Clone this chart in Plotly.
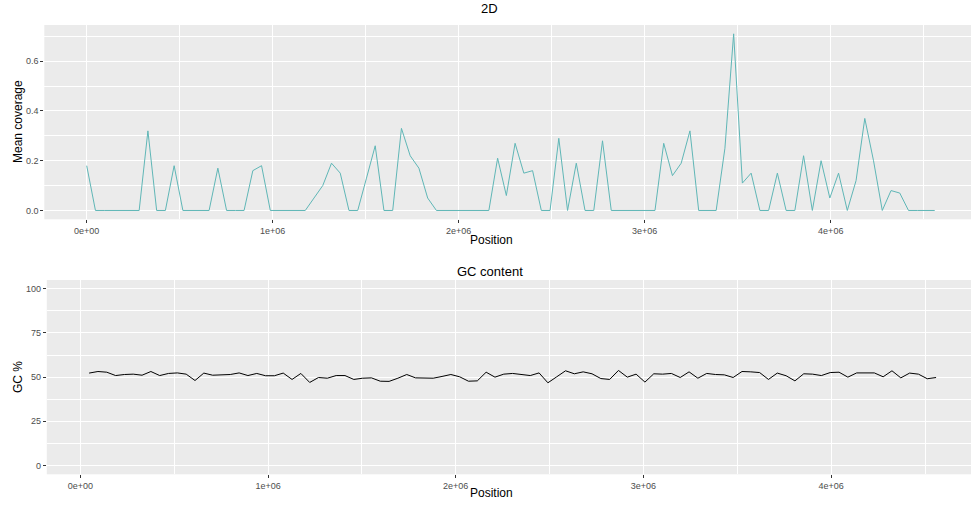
import plotly.graph_objects as go

# ---- data ----
cov_pos = [0, 47000, 94000, 141000, 188000, 235000, 282000, 329000, 376000, 423000,
           470000, 517000, 564000, 611000, 658000, 705000, 752000, 799000, 846000, 893000,
           940000, 987000, 1034000, 1081000, 1128000, 1175000, 1222000, 1269000, 1316000, 1363000,
           1410000, 1457000, 1504000, 1551000, 1598000, 1645000, 1692000, 1739000, 1786000, 1833000,
           1880000, 1927000, 1974000, 2021000, 2068000, 2115000, 2162000, 2209000, 2256000, 2303000,
           2350000, 2397000, 2444000, 2491000, 2538000, 2585000, 2632000, 2679000, 2726000, 2773000,
           2820000, 2867000, 2914000, 2961000, 3008000, 3055000, 3102000, 3149000, 3196000, 3243000,
           3290000, 3337000, 3384000, 3431000, 3478000, 3525000, 3572000, 3619000, 3666000, 3713000,
           3760000, 3807000, 3854000, 3901000, 3948000, 3995000, 4042000, 4089000, 4136000, 4183000,
           4230000, 4277000, 4324000, 4371000, 4418000, 4465000, 4512000, 4559000]

mean_coverage = [0.18, 0, 0, 0, 0, 0, 0, 0.32, 0, 0,
                 0.18, 0, 0, 0, 0, 0.17, 0, 0, 0, 0.16,
                 0.18, 0, 0, 0, 0, 0, 0.05, 0.10, 0.19, 0.15,
                 0, 0, 0.13, 0.26, 0, 0, 0.33, 0.22, 0.17, 0.05,
                 0, 0, 0, 0, 0, 0, 0, 0.21, 0.06, 0.27,
                 0.15, 0.16, 0, 0, 0.29, 0, 0.19, 0, 0, 0.28,
                 0, 0, 0, 0, 0, 0, 0.27, 0.14, 0.19, 0.32,
                 0, 0, 0, 0.25, 0.71, 0.11, 0.15, 0, 0, 0.15,
                 0, 0, 0.22, 0, 0.20, 0.05, 0.15, 0, 0.12, 0.37,
                 0.20, 0, 0.08, 0.07, 0, 0, 0, 0]

gc_pos = cov_pos[1:]
gc_percent = [52.3, 53.2, 52.8, 50.9, 51.5, 51.7, 51.1, 53.2, 50.9, 52.1,
              52.4, 51.7, 48.1, 52.3, 51.1, 51.3, 51.5, 52.4, 50.9, 52.1,
              50.8, 50.8, 52.3, 48.7, 52.1, 47.0, 49.8, 49.4, 50.9, 50.9,
              48.7, 49.4, 49.6, 47.7, 47.6, 49.4, 51.5, 49.6, 49.4, 49.4,
              50.4, 51.5, 50.2, 47.7, 47.9, 52.8, 50.0, 51.7, 52.1, 51.7,
              50.9, 52.4, 46.8, 50.2, 53.6, 51.9, 53.0, 51.9, 49.2, 48.7,
              53.8, 50.0, 51.7, 47.2, 51.9, 51.7, 52.1, 49.8, 53.0, 49.4,
              52.1, 51.5, 51.3, 49.8, 53.2, 53.0, 52.6, 48.7, 52.3, 50.8,
              47.9, 51.9, 51.7, 50.9, 52.6, 52.8, 50.0, 52.4, 52.3, 52.4,
              50.2, 53.6, 49.6, 52.3, 51.7, 49.1, 49.8]

x_tickvals = [0, 1000000, 2000000, 3000000, 4000000]
x_ticktext = ["0e+00", "1e+06", "2e+06", "3e+06", "4e+06"]
cov_tickvals = [0.0, 0.2, 0.4, 0.6]
cov_ticktext = ["0.0", "0.2", "0.4", "0.6"]
gc_tickvals = [0, 25, 50, 75, 100]
gc_ticktext = ["0", "25", "50", "75", "100"]

W, H = 971, 506
FONT = "Liberation Sans, Arial, sans-serif"
TICKCOL = "#4D4D4D"

fig = go.Figure()
fig.add_trace(go.Scatter(x=cov_pos, y=mean_coverage, mode="lines",
                         line=dict(color="#5FB6B6", width=1), xaxis="x", yaxis="y",
                         showlegend=False, hoverinfo="x+y"))
fig.add_trace(go.Scatter(x=gc_pos, y=gc_percent, mode="lines",
                         line=dict(color="black", width=1), xaxis="x2", yaxis="y2",
                         showlegend=False, hoverinfo="x+y"))

def ax_common():
    return dict(showline=False, zeroline=False, showgrid=True, gridcolor="white",
                gridwidth=1.1, ticks="outside", ticklen=3, tickwidth=1,
                tickcolor="#333333", tickfont=dict(family=FONT, size=9, color=TICKCOL),
                fixedrange=True)

# panel pixel geometry
top_y0, top_y1 = 25, 219.3
bot_y0, bot_y1 = 280, 474.3

fig.update_layout(
    width=W, height=H,
    margin=dict(l=0, r=0, t=0, b=0),
    paper_bgcolor="white", plot_bgcolor="#EBEBEB",
    xaxis=dict(**ax_common(), domain=[44.3 / W, 1.0], anchor="y",
               range=[-228000, 4754000], tickmode="array",
               tickvals=x_tickvals, ticktext=x_ticktext,
               minor=dict(showgrid=True, gridcolor="white", gridwidth=0.5,
                          tick0=0, dtick=500000)),
    yaxis=dict(**ax_common(), domain=[1 - top_y1 / H, 1 - top_y0 / H], anchor="x",
               range=[-0.0355, 0.7455], tickmode="array",
               tickvals=cov_tickvals, ticktext=cov_ticktext,
               minor=dict(showgrid=True, gridcolor="white", gridwidth=0.5,
                          tick0=0, dtick=0.1)),
    xaxis2=dict(**ax_common(), domain=[46.8 / W, 1.0], anchor="y2",
                range=[-178500, 4745000], tickmode="array",
                tickvals=x_tickvals, ticktext=x_ticktext,
                minor=dict(showgrid=True, gridcolor="white", gridwidth=0.5,
                           tick0=0, dtick=500000)),
    yaxis2=dict(**ax_common(), domain=[1 - bot_y1 / H, 1 - bot_y0 / H], anchor="x2",
                range=[-5, 105], tickmode="array",
                tickvals=gc_tickvals, ticktext=gc_ticktext,
                minor=dict(showgrid=True, gridcolor="white", gridwidth=0.5,
                           tick0=0, dtick=12.5)),
)

def ann(text, xpx, ypx, size, angle=0):
    fig.add_annotation(text=text, x=xpx / W, y=1 - ypx / H, xref="paper", yref="paper",
                       showarrow=False, xanchor="center", yanchor="middle",
                       textangle=angle, font=dict(family=FONT, size=size, color="black"))

ann("2D", 490, 8, 13)
ann("GC content", 490, 271, 13)
ann("Position", 491, 240, 12)
ann("Position", 491, 493, 12)
ann("Mean coverage", 18, 122, 12, -90)
ann("GC %", 18, 377, 12, -90)

fig.write_html("out.html",
               config={"displayModeBar": False},
               post_script="document.body.style.margin='0';"
                           "document.body.style.overflow='hidden';")
